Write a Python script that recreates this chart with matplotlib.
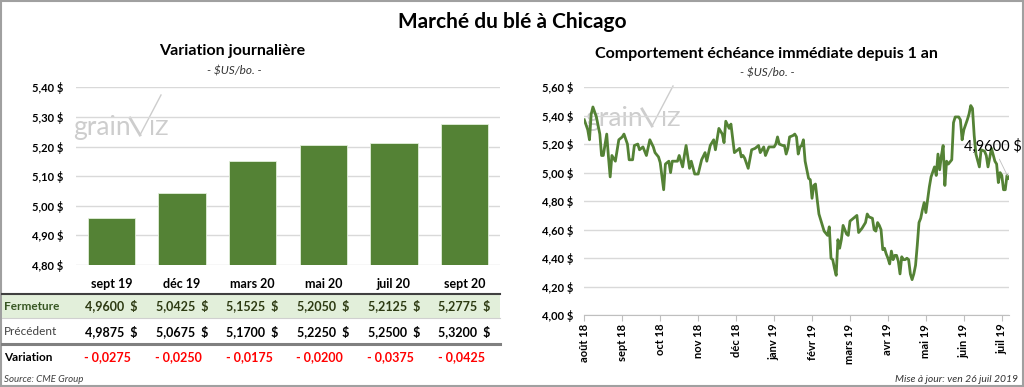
import matplotlib
matplotlib.use("Agg")
import matplotlib.pyplot as plt
from matplotlib.transforms import blended_transform_factory
from matplotlib.ticker import FuncFormatter
from matplotlib.patches import Rectangle

plt.rcParams['font.family'] = ['Lato', 'DejaVu Sans']

# --- left panel: daily variation per contract ---
contracts = ['sept 19', 'déc 19', 'mars 20', 'mai 20', 'juil 20', 'sept 20']
fermeture = [4.9600, 5.0425, 5.1525, 5.2050, 5.2125, 5.2775]
precedent = [4.9875, 5.0675, 5.1700, 5.2250, 5.2500, 5.3200]

# --- right panel: nearby contract over one year (session index, close) ---
month_labels = ['août 18', 'sept 18', 'oct 18', 'nov 18', 'déc 18', 'janv 19',
                'févr 19', 'mars 19', 'avr 19', 'mai 19', 'juin 19', 'juil 19']
month_sessions = [0, 22, 44, 66, 88, 110, 132, 154, 176, 198, 220, 242]

session = [0, 2, 3, 4, 5, 7, 9, 10, 11, 13, 14, 15, 16, 18, 20, 22, 23, 25, 26, 28,
           29, 31, 32, 34, 36, 38, 40, 41, 43, 44, 46, 47, 49, 50, 51, 54, 55, 57, 58, 59,
           61, 62, 64, 66, 68, 70, 71, 73, 75, 76, 78, 80, 81, 82, 84, 85, 86, 87, 89, 90,
           91, 92, 93, 95, 97, 99, 100, 101, 102, 104, 105, 107, 110, 111, 112, 113, 115, 116, 117, 118,
           119, 121, 122, 123, 124, 125, 126, 127, 128, 129, 130, 131, 132, 133, 134, 135, 136, 137, 139, 141,
           142, 143, 144, 145, 146, 147, 148, 149, 150, 152, 153, 154, 155, 157, 158, 159, 161, 163, 164, 165,
           167, 168, 169, 170, 171, 172, 173, 174, 175, 176, 177, 178, 179, 180, 181, 182, 183, 184, 185, 186,
           187, 188, 189, 190, 191, 192, 193, 194, 195, 196, 197, 198, 200, 201, 203, 204, 205, 206, 207, 208,
           209, 210, 211, 213, 214, 215, 217, 218, 219, 220, 222, 223, 224, 225, 226, 227, 229, 230, 232, 233,
           234, 236, 238, 239, 240, 241, 242, 243, 244, 245, 246]
close = [5.37, 5.30, 5.23, 5.41, 5.46, 5.39, 5.27, 5.12, 5.12, 5.27, 5.11, 4.97, 5.12, 5.08, 5.23, 5.25, 5.27, 5.20, 5.09, 5.09,
         5.19, 5.20, 5.16, 5.18, 5.12, 5.23, 5.18, 5.14, 5.11, 5.07, 4.88, 5.06, 5.08, 5.00, 5.08, 5.08, 5.12, 5.04, 5.12, 5.19,
         5.03, 5.08, 4.99, 4.99, 5.09, 5.14, 5.08, 5.19, 5.23, 5.16, 5.31, 5.27, 5.21, 5.36, 5.31, 5.34, 5.24, 5.14, 5.16, 5.17,
         5.11, 5.12, 5.10, 5.03, 5.16, 5.17, 5.18, 5.19, 5.14, 5.18, 5.12, 5.18, 5.18, 5.20, 5.25, 5.20, 5.19, 5.19, 5.13, 5.17,
         5.25, 5.26, 5.27, 5.25, 5.13, 5.18, 5.19, 5.23, 5.08, 5.02, 4.96, 4.95, 4.82, 4.91, 4.92, 4.81, 4.71, 4.67, 4.59, 4.56,
         4.62, 4.40, 4.39, 4.33, 4.28, 4.53, 4.47, 4.53, 4.63, 4.57, 4.56, 4.66, 4.67, 4.69, 4.70, 4.58, 4.61, 4.65, 4.71, 4.69,
         4.68, 4.60, 4.59, 4.65, 4.63, 4.60, 4.46, 4.47, 4.43, 4.40, 4.36, 4.45, 4.39, 4.42, 4.42, 4.38, 4.29, 4.41, 4.39, 4.39,
         4.40, 4.39, 4.29, 4.25, 4.29, 4.35, 4.49, 4.65, 4.68, 4.74, 4.79, 4.72, 4.90, 4.97, 5.04, 4.98, 5.13, 5.02, 5.12, 5.19,
         4.91, 5.08, 5.06, 5.09, 5.35, 5.39, 5.39, 5.37, 5.23, 5.30, 5.37, 5.41, 5.47, 5.45, 5.26, 5.13, 5.04, 5.16, 5.15, 5.12,
         5.04, 5.17, 5.08, 5.06, 4.93, 5.00, 4.98, 4.88, 4.88, 4.98, 4.96]

green = '#548235'
grid_c = '#d9d9d9'
W, H = 1024, 387


def px_rect(x0, y0, x1, y1):
    return [x0 / W, 1 - y1 / H, (x1 - x0) / W, (y1 - y0) / H]


def dollar(v, pos=None):
    return f"{v:.2f} $".replace('.', ',')


fig = plt.figure(figsize=(10.24, 3.87), dpi=100)

# overlay in pixel units for titles, table and decoration
ov = fig.add_axes([0, 0, 1, 1], zorder=0)
ov.set_xlim(0, W)
ov.set_ylim(H, 0)
ov.axis('off')
ov.add_patch(Rectangle((1, 1), W - 2, H - 2, fill=False, edgecolor='#a0a0a0', lw=1.5))


def watermark(x, y):
    wm = '#cdcdcd'
    ov.text(x, y, 'grain', fontsize=19, color=wm, va='baseline')
    ov.plot([x + 57, x + 67], [y - 17, y], color=wm, lw=2)
    ov.plot([x + 67, x + 88], [y, y - 40], color=wm, lw=1)
    ov.text(x + 76, y, 'IZ', fontsize=16, color=wm, va='baseline')


watermark(73, 135)
watermark(585, 126)

ov.text(512, 22, 'Marché du blé à Chicago', fontsize=15, fontweight='bold', ha='center', va='center')
ov.text(232, 51, 'Variation journalière', fontsize=11.5, fontweight='bold', ha='center', va='center')
ov.text(234, 71, '- $US/bo. -', fontsize=8.5, style='italic', ha='center', va='center', color='#333333')
ov.text(766, 54, 'Comportement échéance immédiate depuis 1 an', fontsize=11.5, fontweight='bold',
        ha='center', va='center')
ov.text(767, 73, '- $US/bo. -', fontsize=8.5, style='italic', ha='center', va='center', color='#333333')

# --- bar chart ---
ax = fig.add_axes(px_rect(76, 87.3, 500, 265), zorder=2)
ax.patch.set_visible(False)
x = list(range(len(contracts)))
ax.bar(x, fermeture, width=0.67, color=green, edgecolor='#e2efda', lw=0.6, zorder=3)
ax.set_ylim(4.80, 5.40)
ax.set_xlim(-0.5, len(contracts) - 0.5)
ax.set_yticks([4.8, 4.9, 5.0, 5.1, 5.2, 5.3, 5.4])
ax.yaxis.set_major_formatter(FuncFormatter(dollar))
ax.grid(axis='y', color=grid_c, lw=1)
ax.set_axisbelow(True)
for s in ax.spines.values():
    s.set_visible(False)
ax.set_xticks(x)
ax.set_xticklabels(contracts, fontweight='bold', fontsize=9)
ax.tick_params(axis='x', length=0, pad=9)
ax.tick_params(axis='y', length=0, pad=9, labelsize=8)
for lab in ax.get_yticklabels():
    lab.set_fontweight('bold')

# --- table under the bars ---
col = blended_transform_factory(ax.transData, ov.transData)
ov.add_patch(Rectangle((2, 294.5), 498, 23.5, color='#e2efda', lw=0))
ov.plot([2, 500], [293.5, 293.5], color='#404040', lw=1.5)
ov.plot([2, 500], [318, 318], color='#d0d0d0', lw=0.8)
ov.plot([2, 500], [344, 344], color='#808080', lw=2.2)

ov.text(4, 306, 'Fermeture', fontsize=8.5, fontweight='bold', color='#375623', va='center')
ov.text(4, 331.5, 'Précédent', fontsize=8.5, color='#404040', va='center')
ov.text(4, 357.5, 'Variation', fontsize=8.5, fontweight='bold', va='center')
for i in x:
    var = fermeture[i] - precedent[i]
    ov.text(i, 306, f"{fermeture[i]:.4f}  $".replace('.', ','), transform=col, ha='center',
            va='center', fontsize=9, fontweight='bold', color='#2d3a12')
    ov.text(i, 331.5, f"{precedent[i]:.4f}  $".replace('.', ','), transform=col, ha='center',
            va='center', fontsize=9, fontweight='bold', color='black')
    ov.text(i - 0.05, 357.5, f"- {abs(var):.4f}".replace('.', ','), transform=col, ha='center',
            va='center', fontsize=9, fontweight='bold', color='#ff0000')
ov.text(4, 379, 'Source: CME Group', fontsize=7, style='italic', color='#404040', va='center')

# --- line chart ---
ax2 = fig.add_axes(px_rect(584.3, 87, 1008.7, 315.3), zorder=2)
ax2.patch.set_visible(False)
ax2.plot(session, close, color=green, lw=2.0, zorder=3, solid_joinstyle='round')
ax2.set_ylim(4.0, 5.6)
ax2.set_xlim(0, session[-1])
ax2.set_yticks([4.0, 4.2, 4.4, 4.6, 4.8, 5.0, 5.2, 5.4, 5.6])
ax2.yaxis.set_major_formatter(FuncFormatter(dollar))
ax2.grid(axis='y', color=grid_c, lw=1)
ax2.set_axisbelow(True)
for s in ['top', 'right', 'left']:
    ax2.spines[s].set_visible(False)
ax2.spines['bottom'].set_color('#bfbfbf')
ax2.set_xticks(month_sessions)
ax2.set_xticklabels(month_labels, rotation=90, fontweight='bold', fontsize=8)
ax2.tick_params(axis='x', length=4, color='#bfbfbf', pad=2)
ax2.tick_params(axis='y', length=0, pad=8, labelsize=8)
for lab in ax2.get_yticklabels():
    lab.set_fontweight('bold')
ax2.annotate(f"{close[-1]:.4f} $".replace('.', ','), xy=(session[-1], close[-1]),
             xytext=(-32, 23), textcoords='offset points', ha='left', va='center', fontsize=10.5,
             arrowprops=dict(arrowstyle='-', color='#bfbfbf', lw=0.6), annotation_clip=False)

ov.text(1018, 379, 'Mise à jour: ven 26 juil 2019', fontsize=7.5, style='italic', color='#333333',
        ha='right', va='center')

fig.savefig('out.png', dpi=100)
